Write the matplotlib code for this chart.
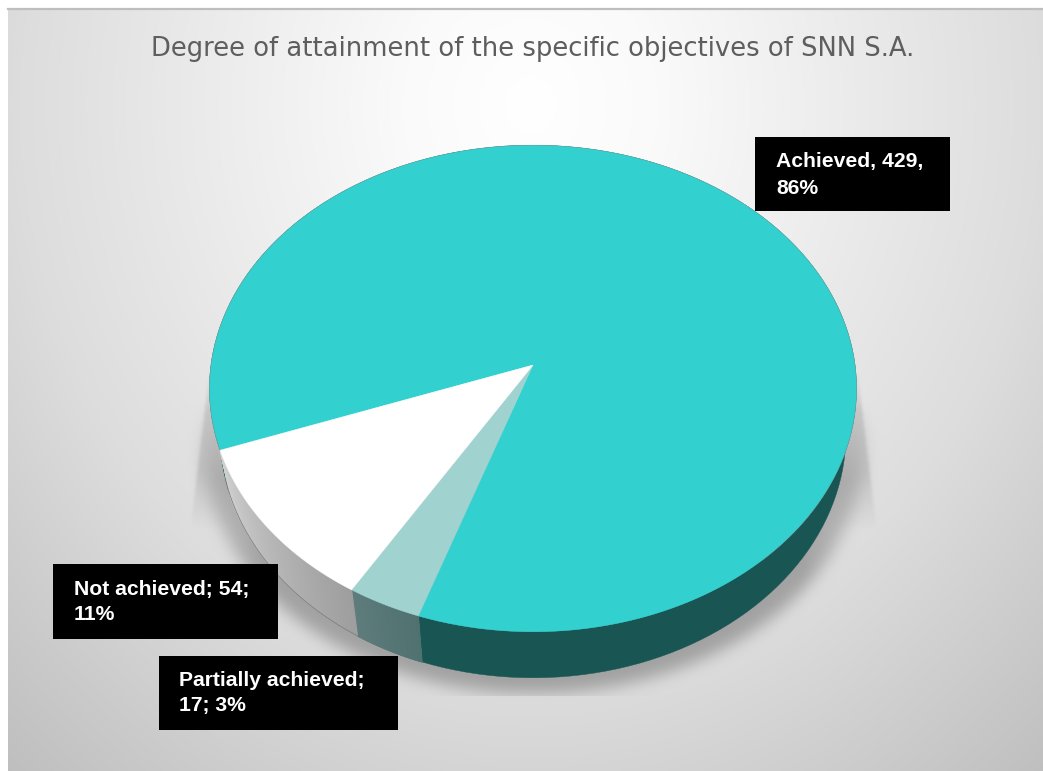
import numpy as np
import matplotlib
matplotlib.use("Agg")
import matplotlib.pyplot as plt
from matplotlib.patches import Polygon, Rectangle
from matplotlib.collections import PolyCollection
from matplotlib.colors import to_rgb

# Chart content
title = "Degree of attainment of the specific objectives of SNN S.A."
categories = ["Achieved", "Partially achieved", "Not achieved"]
values = [429, 17, 54]
label_lines = [["Achieved, 429,", "86%"], ["Partially achieved;", "17; 3%"], ["Not achieved; 54;", "11%"]]

top_colors = ["#33D0D0", "#A0D2D0", "#FFFFFF"]
side_near = ["#195553", "#4F7170", "#9E9E9E"]
side_far = ["#195553", "#5E7C7B", "#CFCFCF"]
label_boxes = [(755, 137, 195, 74), (159, 656, 239, 74), (53, 564, 225, 75)]
label_text_xy = [(776, 162), (179, 680), (74, 589)]

W, H = 1043, 771
START_CLOCK = 250.0  # first slice begins here, degrees clockwise from the top
PANEL = (8, 9, 1043, 771)

fig = plt.figure(figsize=(W / 100, H / 100), dpi=100, facecolor="white")
ax = fig.add_axes([0, 0, 1, 1])


def box_blur(a, radius, passes=3):
    """Approximate a gaussian blur with repeated box filters."""
    kernel = np.ones(2 * radius + 1) / (2 * radius + 1)
    out = a.copy()
    for _ in range(passes):
        out = np.apply_along_axis(lambda m: np.convolve(m, kernel, mode="same"), 0, out)
        out = np.apply_along_axis(lambda m: np.convolve(m, kernel, mode="same"), 1, out)
    return out


# Panel background: radial grey gradient
yy, xx = np.mgrid[0:H, 0:W]
r = np.hypot((xx - 530) / 510.0, (yy - 105) / 580.0)
bg = np.interp(r, [0, 0.25, 1.0, 1.55], [255, 250, 221, 190]) / 255.0

# Soft halo hugging the rim
halo = (((xx - 533) / 331.0) ** 2 + ((yy - 446) / 247.0) ** 2 <= 1).astype(float)
halo = box_blur(halo, 7)
halo[yy > 695] *= 0.12
fade = 1 - np.clip((np.abs(xx - 533) - 270) / 110.0, 0, 1) * np.clip((yy - 430) / 110.0, 0, 1)
halo *= fade * np.clip((yy - 400) / 80.0, 0, 1)

# Straight flanks tapering away on both sides of the disc
flank_half = 324 + 18 * np.clip((yy - 370) / 150.0, 0, 1)
flank = ((np.abs(xx - 533) < flank_half) & (yy > 370) & (np.abs(xx - 533) > 200)).astype(float)
flank = box_blur(flank, 1)
flank *= np.clip((530 - yy) / 60.0, 0, 1) * np.clip((yy - 370) / 40.0, 0, 1)

bg = bg * (1 - 0.27 * halo) * (1 - 0.12 * flank * (1 - halo))
panel_img = np.dstack([bg, bg, bg])
x0, y0, x1, y1 = PANEL
ax.imshow(panel_img[y0:y1, x0:x1], extent=(x0, x1, y1, y0), aspect="auto", zorder=0, interpolation="nearest")
ax.set_xlim(0, W)
ax.set_ylim(H, 0)
ax.axis("off")
ax.plot([x0, x1], [y0, y0], color="#BEBEBE", lw=1.6, zorder=1)

# Perspective view of a circle: top face and the smaller rim below it
K = 0.0965


def project(clock_deg, cx, cy, a, b):
    t = np.radians(clock_deg)
    u, v = np.sin(t), np.cos(t)
    w = 1 + K * v
    return cx + a * u / w, cy - b * v / w


def top_face(t):
    return project(t, 533.0, 365.0, 322.0, 241.0)


def rim(t):
    return project(t, 533.0, 410.5, 311.5, 241.5)


fractions = np.array(values, dtype=float) / sum(values)
edges = START_CLOCK + 360 * np.concatenate([[0], np.cumsum(fractions)])

# Side wall; slices with shading are split into thin strips along the rim
for i in range(len(values)):
    ts = np.linspace(edges[i], edges[i + 1], 160)
    c_near, c_far = np.array(to_rgb(side_near[i])), np.array(to_rgb(side_far[i]))
    if i == 0:
        xa, ya = top_face(ts)
        xb, yb = rim(ts)
        pts = np.column_stack([np.r_[xa, xb[::-1]], np.r_[ya, yb[::-1]]])
        ax.add_patch(Polygon(pts, closed=True, facecolor=c_near, edgecolor=c_near, lw=0.3, zorder=2))
        continue
    polys, cols = [], []
    for j in range(len(ts) - 1):
        t_pair = ts[j : j + 2]
        xa, ya = top_face(t_pair)
        xb, yb = rim(t_pair)
        polys.append(np.column_stack([np.r_[xa, xb[::-1]], np.r_[ya, yb[::-1]]]))
        f = j / (len(ts) - 2)
        cols.append(c_near + (c_far - c_near) * f)
    ax.add_collection(PolyCollection(polys, facecolors=cols, edgecolors=cols, linewidths=0.8, zorder=2))

# Thin grey outline along the lower rim of the pale slices
ts = np.linspace(edges[2], edges[3] + 4, 120)
xb, yb = rim(ts)
ax.plot(xb, yb, color="#7F7F7F", lw=0.6, zorder=2.5)

# Top face wedges
for i in range(len(values)):
    ts = np.linspace(edges[i], edges[i + 1], 400)
    xs, ys = top_face(ts)
    pts = np.column_stack([np.r_[533.0, xs], np.r_[365.0, ys]])
    ax.add_patch(Polygon(pts, closed=True, facecolor=top_colors[i], edgecolor=top_colors[i], lw=0.3, zorder=3))

ts = np.linspace(edges[0] - 360, edges[1] - 360 - 60, 500)
xs, ys = top_face(ts)
ax.plot(xs, ys, color="#8A9A9A", lw=0.5, alpha=0.5, zorder=3.5)

# Data labels on black boxes
for box, pos, lines in zip(label_boxes, label_text_xy, label_lines):
    ax.add_patch(Rectangle(box[:2], box[2], box[3], facecolor="black", edgecolor="none", zorder=5))
    for n, line in enumerate(lines):
        ax.text(pos[0], pos[1] + 26 * n, line, color="white", fontsize=15.2, fontweight="bold",
                family="Liberation Sans", va="center", ha="left", zorder=6)

ax.text(533, 49, title, color="#5E5E5E", fontsize=18.6, family="DejaVu Sans", ha="center", va="center", zorder=6)

fig.savefig("out.png", dpi=100, facecolor="white")
